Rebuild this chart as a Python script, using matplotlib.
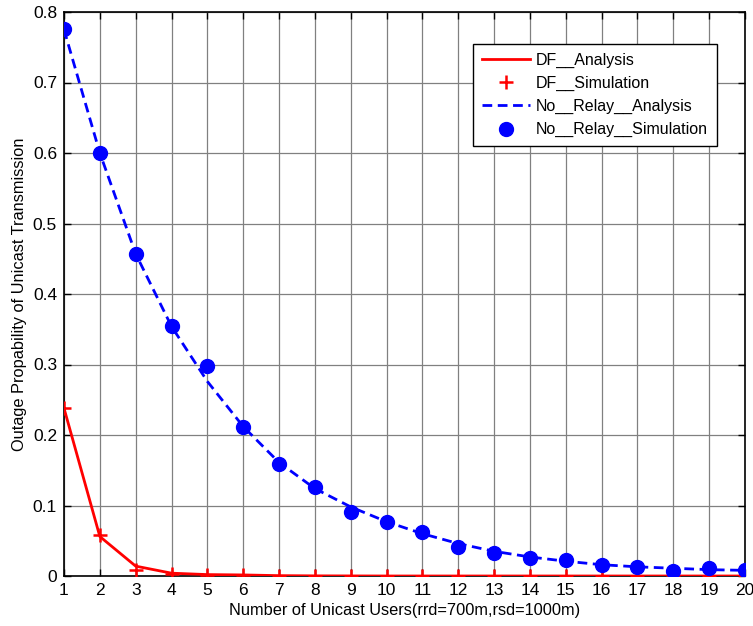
import matplotlib
matplotlib.use("Agg")
import matplotlib.pyplot as plt

plt.rcParams['font.family'] = ['Liberation Sans', 'DejaVu Sans']

users = list(range(1, 21))

df_analysis = [0.238, 0.056, 0.014, 0.004, 0.002, 0.0015, 0.0005, 0.0002, 0.0001, 0.0,
               0.0, 0.0, 0.0, 0.0, 0.0, 0.0, 0.0, 0.0, 0.0, 0.0]
df_simulation = [0.238, 0.058, 0.009, 0.003, 0.001, 0.001, 0.0, 0.0, 0.0, 0.0,
                 0.0, 0.0, 0.0, 0.0, 0.0, 0.0, 0.0, 0.0, 0.0, 0.0]
nr_analysis = [0.775, 0.600, 0.457, 0.354, 0.276, 0.212, 0.161, 0.124, 0.098, 0.077,
               0.060, 0.046, 0.035, 0.027, 0.021, 0.016, 0.013, 0.011, 0.009, 0.008]
nr_simulation = [0.776, 0.600, 0.457, 0.354, 0.298, 0.212, 0.159, 0.126, 0.091, 0.077,
                 0.062, 0.041, 0.033, 0.026, 0.022, 0.015, 0.013, 0.0075, 0.012, 0.0085]

y_ticks = [0, 0.1, 0.2, 0.3, 0.4, 0.5, 0.6, 0.7, 0.8]
y_ticklabels = ['0', '0.1', '0.2', '0.3', '0.4', '0.5', '0.6', '0.7', '0.8']

fig = plt.figure(figsize=(7.53, 6.26), dpi=100)
ax = fig.add_axes([64/753, 50/626, 681/753, 564/626])

ax.plot(users, df_analysis, '-', color='red', lw=2, label='DF__Analysis', zorder=3)
ax.plot(users, df_simulation, '+', color='red', ms=10, mew=1.8, label='DF__Simulation', zorder=4)
ax.plot(users, nr_analysis, '--', color='blue', lw=2, dashes=(3.5, 2), label='No__Relay__Analysis', zorder=3)
ax.plot(users, nr_simulation, 'o', color='blue', ms=10, label='No__Relay__Simulation', zorder=4)

ax.set_xlim(1, 20)
ax.set_ylim(0, 0.8)
ax.set_xticks(users)
ax.set_yticks(y_ticks)
ax.set_yticklabels(y_ticklabels)
ax.tick_params(direction='in', top=True, right=True, labelsize=12.5, length=5, width=1, pad=5)
ax.grid(True, color='#808080', lw=0.9, ls='-')
ax.set_axisbelow(True)
for s in ax.spines.values():
    s.set_linewidth(1.2)
    s.set_color('black')

ax.set_xlabel('Number of Unicast Users(rrd=700m,rsd=1000m)', fontsize=11.8, labelpad=4)
ax.set_ylabel('Outage Propability of Unicast Transmission', fontsize=11.8, labelpad=4)

leg = ax.legend(loc='upper right', bbox_to_anchor=((717 - 64) / 681, 1 - (44 - 12) / 564),
                bbox_transform=ax.transAxes, fontsize=11.5, frameon=True, fancybox=False,
                edgecolor='black', framealpha=1, handlelength=3.0, labelspacing=0.5,
                borderpad=0.55, handletextpad=0.4, borderaxespad=0)
leg.get_frame().set_linewidth(1.0)

fig.savefig('out.png', dpi=100)
